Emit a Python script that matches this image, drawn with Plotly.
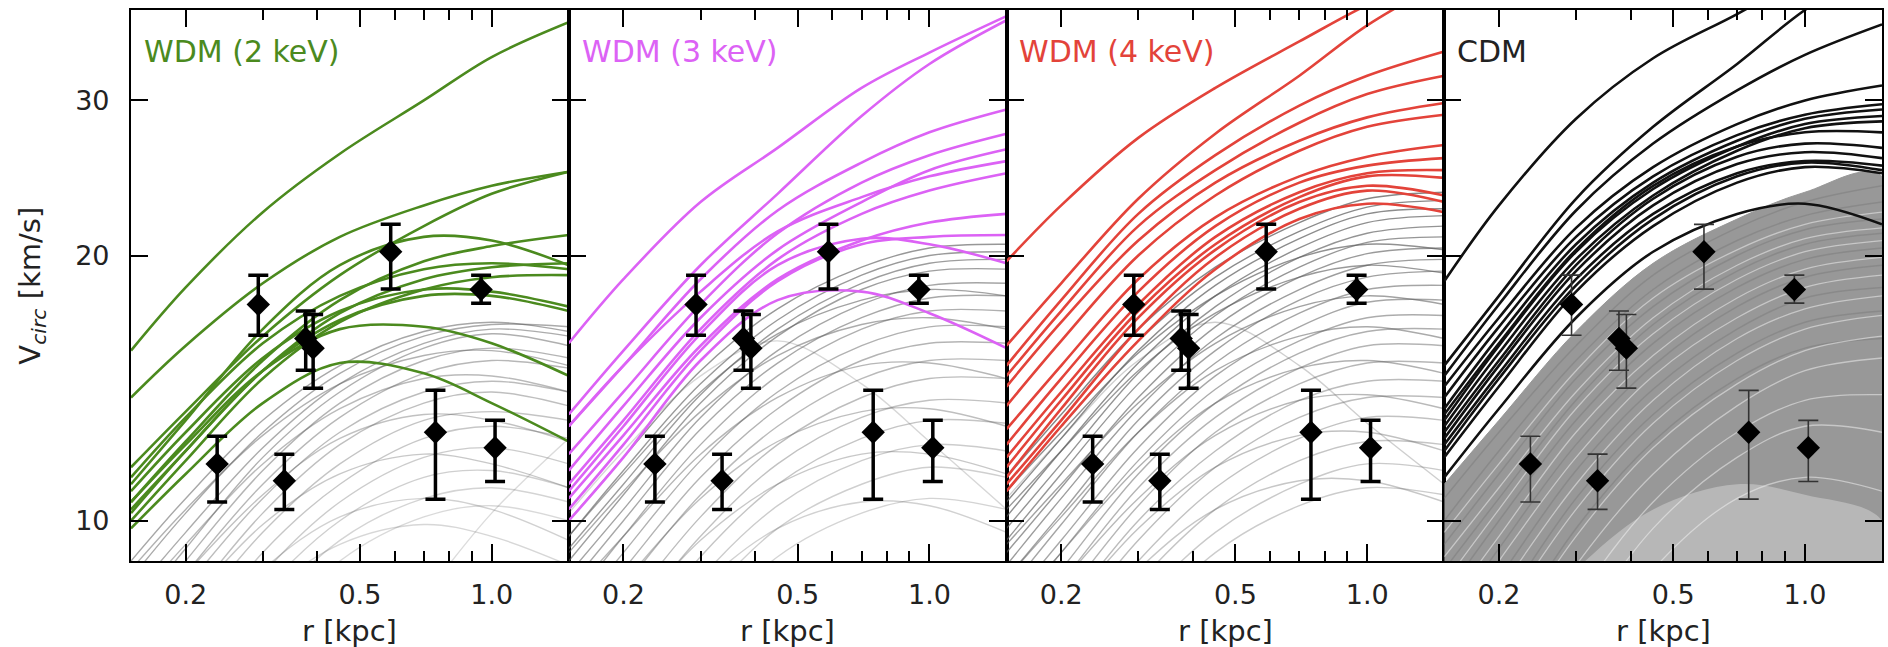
import math
import plotly.graph_objects as go
from plotly.subplots import make_subplots

# radius grid (kpc) at which every rotation curve is sampled
R = [0.15, 0.2, 0.3, 0.45, 0.7, 1.0, 1.5]

# ---- observed dwarfs (r_half, V_circ, errors) ----
dwarf_r = [0.236, 0.293, 0.336, 0.376, 0.391, 0.588, 0.744, 0.946, 1.018]
dwarf_v = [11.6, 17.6, 11.1, 16.1, 15.7, 20.2, 12.6, 18.3, 12.1]
dwarf_err_hi = [0.87, 1.40, 0.80, 1.20, 1.44, 1.50, 1.46, 0.70, 0.90]
dwarf_err_lo = [1.10, 1.36, 0.80, 1.28, 1.56, 1.88, 2.02, 0.64, 1.02]

panel_titles = ["WDM (2 keV)", "WDM (3 keV)", "WDM (4 keV)", "CDM"]
panel_colors = ["#4b8a1e", "#dc62f5", "#e3433a", "#111111"]

x_major = [0.2, 0.5, 1.0]
x_major_text = ["0.2", "0.5", "1.0"]
x_minor = [0.3, 0.4, 0.6, 0.7, 0.8, 0.9]
y_major = [10, 20, 30]
y_major_text = ["10", "20", "30"]

# ---- massive subhaloes (coloured curves) ----
green_curves = [
    [15.6, 18.4, 22.4, 26.1, 30.0, 33.6, 36.8],
    [13.8, 15.8, 18.6, 21.0, 22.8, 24.0, 24.9],
    [11.5, 13.3, 16.2, 19.0, 21.6, 23.5, 24.9],
    [10.5, 12.3, 15.2, 17.8, 19.7, 20.5, 21.1],
    [11.0, 13.0, 16.5, 19.5, 21.0, 20.8, 19.5],
    [10.3, 12.0, 14.8, 17.2, 18.8, 19.4, 19.6],
    [10.0, 11.7, 14.5, 16.8, 18.3, 18.9, 19.0],
    [10.8, 12.6, 15.3, 17.3, 18.3, 18.2, 17.5],
    [10.2, 12.0, 14.8, 16.9, 18.0, 18.0, 17.3],
    [10.5, 12.2, 14.8, 16.5, 16.6, 15.9, 14.6],
    [9.8, 11.3, 13.6, 15.1, 14.7, 13.6, 12.3],
    [11.2, 13.1, 15.9, 18.0, 19.3, 19.6, 19.3],
]
magenta_curves = [
    [15.9, 18.8, 23.0, 26.5, 31.0, 34.0, 37.4],
    [13.2, 15.6, 19.5, 23.5, 28.8, 33.0, 37.0],
    [12.8, 15.0, 18.8, 22.5, 25.5, 27.6, 29.3],
    [11.9, 14.0, 17.6, 21.2, 24.2, 26.0, 27.5],
    [11.4, 13.5, 17.0, 20.3, 23.0, 25.0, 26.4],
    [12.8, 15.0, 18.2, 21.3, 23.3, 24.6, 25.6],
    [11.0, 13.0, 16.5, 19.8, 22.3, 23.7, 24.8],
    [10.6, 12.5, 15.8, 18.8, 20.8, 21.8, 22.3],
    [10.3, 12.2, 15.6, 18.7, 20.6, 21.0, 21.1],
    [10.8, 12.8, 16.3, 19.5, 20.9, 20.6, 19.6],
    [10.0, 11.8, 15.2, 17.8, 18.2, 17.2, 15.7],
]
red_curves = [
    [19.7, 22.8, 27.2, 31.0, 35.0, 38.5, 42.0],
    [15.8, 18.6, 23.2, 27.5, 32.0, 36.5, 41.0],
    [15.0, 17.8, 22.3, 26.0, 29.6, 32.0, 34.1],
    [14.6, 17.3, 21.6, 25.0, 28.3, 30.5, 32.0],
    [14.2, 16.8, 20.8, 24.2, 27.0, 28.7, 29.8],
    [13.5, 16.0, 20.0, 23.4, 26.3, 28.0, 28.9],
    [12.7, 15.0, 18.8, 22.1, 24.6, 25.9, 26.7],
    [12.2, 14.5, 18.2, 21.6, 24.2, 25.3, 25.8],
    [11.8, 14.0, 17.6, 21.0, 23.6, 24.8, 25.0],
    [11.5, 13.7, 17.3, 20.6, 23.3, 24.6, 24.5],
    [11.2, 13.4, 17.0, 20.3, 23.0, 24.0, 23.4],
    [10.8, 12.8, 16.0, 19.3, 22.0, 22.9, 22.4],
    [11.0, 13.0, 16.5, 19.9, 22.6, 23.7, 23.0],
]
black_curves = [
    [18.7, 22.8, 28.6, 33.5, 37.6, 41.5, 46.0],
    [15.0, 18.0, 23.2, 28.0, 33.0, 38.0, 43.0],
    [14.6, 17.6, 22.5, 26.8, 30.8, 33.8, 36.6],
    [14.2, 17.0, 21.5, 25.2, 28.2, 30.0, 31.2],
    [13.8, 16.6, 21.0, 24.6, 27.4, 28.9, 29.7],
    [13.4, 16.2, 20.6, 24.2, 27.0, 28.6, 29.3],
    [13.0, 15.8, 20.2, 23.8, 26.6, 28.2, 28.8],
    [12.8, 15.5, 19.8, 23.4, 26.3, 27.9, 28.4],
    [13.2, 15.9, 20.3, 24.0, 26.6, 27.6, 27.6],
    [12.6, 15.2, 19.5, 23.2, 25.9, 26.8, 26.5],
    [12.4, 15.0, 19.2, 22.8, 25.4, 26.2, 25.8],
    [12.2, 14.7, 18.8, 22.3, 24.8, 25.6, 25.3],
    [12.0, 14.5, 18.5, 22.0, 24.6, 25.5, 25.0],
    [11.8, 14.2, 18.2, 21.6, 24.2, 25.2, 24.8],
    [11.2, 13.4, 17.0, 20.2, 22.3, 22.9, 21.7],
]

# ---- lower-mass subhaloes (grey curves), most massive first ----
gray_p1 = [
    [9.0, 10.6, 13.0, 15.0, 16.4, 16.8, 16.4],
    [8.6, 10.2, 12.6, 14.7, 16.2, 16.7, 16.6],
    [8.2, 9.7, 12.1, 14.3, 15.9, 16.5, 16.2],
    [7.8, 9.3, 11.8, 14.0, 15.7, 16.3, 15.8],
    [8.8, 10.3, 12.5, 14.3, 15.4, 15.6, 15.0],
    [7.5, 9.0, 11.4, 13.6, 15.2, 15.7, 15.3],
    [7.2, 8.7, 11.0, 13.1, 14.7, 15.2, 14.9],
    [8.0, 9.4, 11.6, 13.4, 14.5, 14.6, 14.0],
    [7.0, 8.4, 10.6, 12.6, 14.0, 14.4, 14.0],
    [6.6, 8.0, 10.2, 12.2, 13.6, 14.0, 13.5],
    [7.4, 8.7, 10.7, 12.4, 13.2, 13.0, 12.3],
    [6.2, 7.6, 9.7, 11.6, 13.0, 13.3, 13.0],
    [5.8, 7.1, 9.2, 11.0, 12.4, 12.8, 12.4],
    [6.8, 8.0, 9.9, 11.3, 11.9, 11.6, 10.9],
    [5.5, 6.7, 8.7, 10.5, 11.8, 12.1, 11.6],
    [5.2, 6.4, 8.3, 10.0, 11.2, 11.4, 10.9],
    [6.0, 7.1, 8.8, 10.1, 10.6, 10.3, 9.5],
    [4.8, 5.9, 7.8, 9.5, 10.6, 10.9, 10.5],
    [5.6, 6.6, 8.2, 9.4, 9.9, 9.6, 8.9],
    [4.5, 5.5, 7.3, 9.0, 10.1, 10.4, 10.0],
    [2.5, 3.3, 4.6, 6.2, 8.2, 10.2, 12.4],
]
gray_p2 = [
    [10.0, 11.8, 14.8, 17.4, 19.4, 20.4, 20.6],
    [9.6, 11.4, 14.3, 16.9, 19.0, 20.0, 20.2],
    [9.3, 11.0, 13.9, 16.5, 18.6, 19.6, 19.8],
    [9.0, 10.7, 13.6, 16.2, 18.3, 19.2, 19.3],
    [9.6, 11.3, 14.0, 16.3, 17.8, 18.3, 18.0],
    [8.7, 10.3, 13.1, 15.6, 17.6, 18.5, 18.6],
    [8.4, 10.0, 12.7, 15.1, 17.0, 17.9, 18.0],
    [9.2, 10.8, 13.3, 15.4, 16.7, 17.0, 16.5],
    [8.0, 9.6, 12.2, 14.6, 16.5, 17.3, 17.3],
    [7.7, 9.2, 11.7, 14.0, 15.8, 16.6, 16.6],
    [7.4, 8.8, 11.2, 13.4, 15.2, 15.9, 15.9],
    [8.2, 9.6, 11.9, 13.8, 15.0, 15.1, 14.5],
    [7.0, 8.4, 10.7, 12.8, 14.5, 15.2, 15.2],
    [6.6, 7.9, 10.1, 12.2, 13.8, 14.5, 14.5],
    [7.2, 8.5, 10.6, 12.3, 13.3, 13.4, 12.8],
    [6.2, 7.5, 9.6, 11.6, 13.1, 13.7, 13.6],
    [5.8, 7.0, 9.1, 11.0, 12.4, 13.0, 12.9],
    [6.4, 7.6, 9.5, 11.0, 11.9, 11.9, 11.3],
    [5.4, 6.6, 8.6, 10.4, 11.7, 12.2, 12.0],
    [5.0, 6.1, 8.0, 9.8, 11.0, 11.5, 11.2],
    [5.6, 6.6, 8.4, 9.8, 10.5, 10.4, 9.7],
    [4.6, 5.6, 7.4, 9.1, 10.2, 10.6, 10.3],
    [10.2, 12.0, 14.6, 16.0, 14.3, 12.3, 10.3],
]
gray_p3 = [
    [11.2, 13.2, 16.5, 19.4, 21.8, 23.2, 23.6],
    [10.8, 12.8, 16.0, 18.9, 21.3, 22.7, 23.1],
    [10.5, 12.4, 15.6, 18.5, 20.9, 22.3, 22.6],
    [10.1, 12.0, 15.1, 18.0, 20.4, 21.8, 22.2],
    [10.8, 12.6, 15.5, 18.0, 19.9, 20.6, 20.3],
    [9.8, 11.6, 14.7, 17.5, 19.9, 21.2, 21.6],
    [9.5, 11.3, 14.3, 17.1, 19.4, 20.7, 21.0],
    [10.3, 12.0, 14.8, 17.2, 18.9, 19.5, 19.1],
    [9.2, 10.9, 13.8, 16.6, 18.9, 20.1, 20.4],
    [8.9, 10.6, 13.4, 16.1, 18.3, 19.5, 19.8],
    [8.6, 10.2, 13.0, 15.6, 17.8, 18.9, 19.2],
    [9.4, 11.0, 13.6, 15.9, 17.5, 18.0, 17.6],
    [8.3, 9.9, 12.6, 15.1, 17.2, 18.3, 18.5],
    [8.0, 9.5, 12.1, 14.6, 16.6, 17.7, 17.8],
    [8.6, 10.1, 12.6, 14.8, 16.2, 16.6, 16.1],
    [7.7, 9.2, 11.7, 14.1, 16.0, 17.0, 17.1],
    [7.4, 8.8, 11.3, 13.6, 15.5, 16.4, 16.5],
    [7.8, 9.2, 11.5, 13.6, 14.9, 15.2, 14.7],
    [7.1, 8.5, 10.9, 13.1, 14.9, 15.8, 15.8],
    [6.8, 8.1, 10.4, 12.6, 14.3, 15.1, 15.1],
    [7.2, 8.5, 10.6, 12.5, 13.7, 13.9, 13.4],
    [6.5, 7.8, 10.0, 12.0, 13.7, 14.4, 14.4],
    [6.1, 7.4, 9.5, 11.5, 13.1, 13.8, 13.8],
    [6.6, 7.8, 9.8, 11.5, 12.5, 12.6, 12.0],
    [5.8, 7.0, 9.0, 10.9, 12.4, 13.1, 13.0],
    [5.4, 6.6, 8.5, 10.3, 11.7, 12.3, 12.2],
    [5.9, 7.0, 8.8, 10.3, 11.1, 11.1, 10.5],
    [5.0, 6.1, 8.0, 9.7, 11.0, 11.6, 11.4],
    [4.7, 5.7, 7.5, 9.2, 10.4, 10.9, 10.7],
    [10.6, 12.4, 15.2, 16.8, 15.0, 12.9, 11.0],
]
# CDM: the grey curves are so numerous that they form a band
cdm_band_top = [11.0, 13.0, 16.4, 19.6, 22.0, 23.6, 24.6]
cdm_band_bottom = [8.0, 8.0, 8.0, 8.0, 8.0, 8.0, 8.0]
cdm_light_top = [6.0, 7.0, 8.8, 10.3, 11.0, 10.7, 10.0]
cdm_dark_streaks = [
    [10.6, 12.6, 15.8, 19.0, 21.5, 23.0, 24.0],
    [10.0, 12.0, 15.2, 18.3, 20.8, 22.2, 23.0],
    [9.4, 11.3, 14.5, 17.5, 20.0, 21.4, 22.0],
    [8.8, 10.6, 13.7, 16.7, 19.2, 20.6, 21.2],
    [8.2, 10.0, 13.0, 15.9, 18.4, 19.8, 20.4],
    [7.6, 9.3, 12.2, 15.0, 17.5, 18.9, 19.5],
    [7.0, 8.6, 11.4, 14.1, 16.5, 17.9, 18.4],
    [6.4, 7.9, 10.6, 13.2, 15.5, 16.8, 17.3],
    [5.8, 7.2, 9.8, 12.3, 14.5, 15.7, 16.1],
]
cdm_light_streaks = [
    [9.7, 11.6, 14.8, 17.9, 20.3, 21.7, 22.4],
    [9.1, 10.9, 14.0, 17.0, 19.5, 20.9, 21.5],
    [8.5, 10.3, 13.4, 16.3, 18.8, 20.2, 20.8],
    [7.9, 9.6, 12.6, 15.4, 17.9, 19.3, 19.9],
    [7.3, 9.0, 11.8, 14.6, 17.0, 18.4, 19.0],
    [6.7, 8.3, 11.0, 13.7, 16.1, 17.4, 18.0],
    [6.2, 7.7, 10.3, 12.9, 15.2, 16.5, 17.1],
    [5.7, 7.1, 9.6, 12.1, 14.3, 15.6, 16.2],
    [5.2, 6.5, 8.9, 11.3, 13.5, 14.8, 15.3],
    [4.6, 5.8, 8.1, 10.5, 12.6, 13.7, 13.9],
    [4.0, 5.2, 7.4, 9.8, 11.8, 12.8, 12.6],
    [3.6, 4.6, 6.6, 8.8, 10.6, 11.2, 10.8],
]

XMIN, XMAX = 0.15, 1.5
YMIN, YMAX = 9.0, 38.0
FONT = "DejaVu Sans"
TXT = "#222222"

fig = make_subplots(rows=1, cols=4, shared_yaxes=True, horizontal_spacing=0)


def add_line(col, ys, color, width, shape="spline"):
    fig.add_trace(
        go.Scatter(x=R, y=ys, mode="lines", line=dict(color=color, width=width, shape=shape),
                   hoverinfo="skip", showlegend=False),
        row=1, col=col)


# grey curves in the WDM panels (more massive = darker)
for col, gset, a_hi, a_lo in [(1, gray_p1, 0.55, 0.22), (2, gray_p2, 0.65, 0.25), (3, gray_p3, 0.75, 0.3)]:
    n = len(gset)
    for k, ys in enumerate(gset):
        alpha = a_hi - (a_hi - a_lo) * k / max(n - 1, 1)
        add_line(col, ys, f"rgba(95,95,95,{alpha:.2f})", 1.4)

# CDM grey band
fig.add_trace(go.Scatter(x=R + R[::-1], y=cdm_band_top + cdm_band_bottom[::-1], mode="lines",
                         fill="toself", fillcolor="rgb(152,152,152)",
                         line=dict(color="rgba(152,152,152,1)", width=1, shape="spline"),
                         hoverinfo="skip", showlegend=False), row=1, col=4)
fig.add_trace(go.Scatter(x=R + R[::-1], y=cdm_light_top + cdm_band_bottom[::-1], mode="lines",
                         fill="toself", fillcolor="rgba(255,255,255,0.3)",
                         line=dict(color="rgba(255,255,255,0)", width=0, shape="spline"),
                         hoverinfo="skip", showlegend=False), row=1, col=4)
for ys in cdm_dark_streaks:
    add_line(4, ys, "rgba(125,125,125,0.55)", 1.5)
for ys in cdm_light_streaks:
    add_line(4, ys, "rgba(245,245,245,0.5)", 1.3)

# coloured (massive) curves
for col, cset in [(1, green_curves), (2, magenta_curves), (3, red_curves), (4, black_curves)]:
    for ys in cset:
        add_line(col, ys, panel_colors[col - 1], 2.6)

# data points
for col in range(1, 5):
    thick = 3.5 if col < 4 else 1.6
    ecol = "black" if col < 4 else "#333333"
    fig.add_trace(go.Scatter(
        x=dwarf_r, y=dwarf_v, mode="markers",
        marker=dict(symbol="diamond", size=18, color="black", line=dict(width=0)),
        error_y=dict(type="data", symmetric=False, array=dwarf_err_hi, arrayminus=dwarf_err_lo,
                     color=ecol, thickness=thick, width=10),
        hoverinfo="skip", showlegend=False), row=1, col=col)

axis_common = dict(showline=True, linecolor="black", linewidth=2.2, mirror="allticks",
                   ticks="inside", ticklen=17, tickwidth=2, tickcolor="black",
                   showgrid=False, zeroline=False,
                   tickfont=dict(family=FONT, size=27, color=TXT))

for col in range(1, 5):
    fig.update_xaxes(type="log", range=[math.log10(XMIN), math.log10(XMAX)],
                     tickvals=x_major, ticktext=x_major_text, ticklabelstandoff=8,
                     minor=dict(tickvals=x_minor, ticks="inside", ticklen=10, tickwidth=2,
                                tickcolor="black", showgrid=False),
                     row=1, col=col, **axis_common)
    fig.update_yaxes(type="log", range=[math.log10(YMIN), math.log10(YMAX)],
                     tickvals=y_major, ticktext=y_major_text,
                     showticklabels=(col == 1), ticklabelstandoff=14,
                     row=1, col=col, **axis_common)

annotations = []
for i in range(4):
    xref = "x domain" if i == 0 else f"x{i + 1} domain"
    yref = "y domain" if i == 0 else f"y{i + 1} domain"
    annotations.append(dict(text=panel_titles[i], xref=xref, yref=yref, x=0.025, y=0.925,
                            xanchor="left", yanchor="middle", showarrow=False,
                            font=dict(family=FONT, size=30, color=panel_colors[i] if i < 3 else "#222222")))
    annotations.append(dict(text="r [kpc]", xref=xref, yref="paper", x=0.5, y=-0.127,
                            xanchor="center", yanchor="middle", showarrow=False,
                            font=dict(family=FONT, size=29, color=TXT)))
annotations.append(dict(text="V<sub><i>circ</i></sub> [km/s]", xref="paper", yref="paper",
                        x=-0.057, y=0.5, xanchor="center", yanchor="middle", textangle=-90,
                        showarrow=False, font=dict(family=FONT, size=29, color=TXT)))

fig.update_layout(width=1888, height=647, margin=dict(l=131, r=4, t=10, b=86),
                  plot_bgcolor="white", paper_bgcolor="white", showlegend=False,
                  annotations=annotations)

fig.write_html("out.html")
